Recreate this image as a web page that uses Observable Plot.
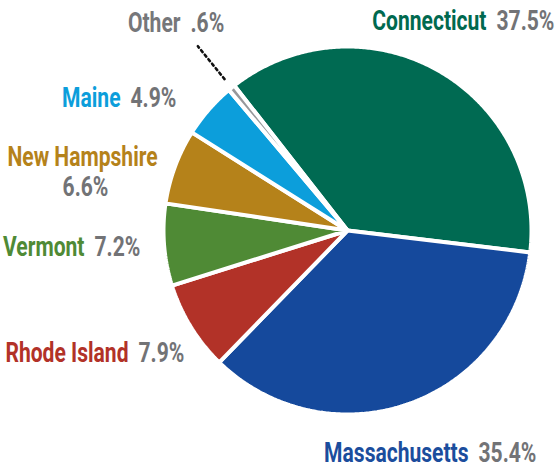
<!DOCTYPE html>
<html>
<head>
<meta charset="utf-8">
<script src="https://cdn.jsdelivr.net/npm/d3@7"></script>
<script src="https://cdn.jsdelivr.net/npm/@observablehq/plot@0.6"></script>
<style>
  html, body { margin: 0; padding: 0; background: #fff; }
  #chart svg { display: block; }
</style>
</head>
<body>
<div id="chart"></div>
<script>
// ---- data ----
const states = ["Connecticut", "Massachusetts", "Rhode Island", "Vermont", "New Hampshire", "Maine", "Other"];
const shares = [37.5, 35.4, 7.9, 7.2, 6.6, 4.9, 0.6];
const pctLabels = ["37.5%", "35.4%", "7.9%", "7.2%", "6.6%", "4.9%", ".6%"];
const colors = ["#006a52", "#15499c", "#b23228", "#4f8a35", "#b5821a", "#0c9edb", "#97989b"];
const textColors = ["#00694f", "#1b4d9d", "#b23228", "#4f8a35", "#b5821a", "#0c9edb", "#76777a"];

// ---- geometry ----
const W = 556, H = 467;
const cx = 347, cy = 230, R = 184;
const startDeg = -38;
const pie = d3.pie().sort(null)
  .startAngle(startDeg * Math.PI / 180)
  .endAngle(startDeg * Math.PI / 180 + 2 * Math.PI)(shares);

const polys = [];
pie.forEach((p, i) => {
  const name = states[i];
  polys.push({name, x: 0, y: 0});
  const n = Math.max(4, Math.ceil((p.endAngle - p.startAngle) / (Math.PI / 360)));
  for (let k = 0; k <= n; k++) {
    const a = p.startAngle + (p.endAngle - p.startAngle) * k / n;
    polys.push({name, x: Math.sin(a), y: Math.cos(a)});
  }
});

// leader line for the tiny "Other" slice
const otherArc = pie[states.indexOf("Other")];
const midOther = (otherArc.startAngle + otherArc.endAngle) / 2;
const leader = [1.06, 1.29].map(r => ({x: r * Math.sin(midOther), y: r * Math.cos(midOther)}));

// label layout (pixel anchors converted to data units)
const toX = px => (px - cx) / R, toY = py => (cy - py) / R;
const layout = {
  "Connecticut":   {px: 491, py: 29},
  "Massachusetts": {px: 473, py: 461},
  "Rhode Island":  {px: 133, py: 361},
  "Vermont":       {px: 89,  py: 255},
  "New Hampshire": {px: 82,  py: 165, stacked: true, ppx: 85, ppy: 195},
  "Maine":         {px: 125, py: 106},
  "Other":         {px: 185, py: 31}
};
const inlineLabels = states.map((s, i) => ({name: s, pct: pctLabels[i], ...layout[s]})).filter(d => !d.stacked);
const stackedLabels = states.map((s, i) => ({name: s, pct: pctLabels[i], ...layout[s]})).filter(d => d.stacked);

const font = "Roboto, 'Liberation Sans', sans-serif";
const fs = 27;
const squeeze = 0.78; // condensed look

const chart = Plot.plot({
  width: W,
  height: H,
  x: {domain: [-1, 1], range: [cx - R, cx + R], axis: null},
  y: {domain: [-1, 1], range: [cy + R, cy - R], axis: null},
  color: {domain: states, range: colors},
  style: {fontFamily: font, background: "white", overflow: "visible"},
  marks: [
    Plot.line(polys, {x: "x", y: "y", z: "name", fill: "name", stroke: "white", strokeWidth: 4, curve: "linear-closed", strokeLinejoin: "miter"}),
    Plot.line(leader, {x: "x", y: "y", stroke: "#111", strokeWidth: 2.6, strokeDasharray: "2.4,3.4"}),
    Plot.text(inlineLabels, {x: d => toX(d.px), y: d => toY(d.py), text: "name", textAnchor: "end", dx: -5,
      fill: d => textColors[states.indexOf(d.name)], fontWeight: "bold", fontSize: fs}),
    Plot.text(inlineLabels, {x: d => toX(d.px), y: d => toY(d.py), text: "pct", textAnchor: "start", dx: 5,
      fill: "#727376", fontWeight: "bold", fontSize: fs}),
    Plot.text(stackedLabels, {x: d => toX(d.px), y: d => toY(d.py), text: "name", textAnchor: "middle",
      fill: d => textColors[states.indexOf(d.name)], fontWeight: "bold", fontSize: fs}),
    Plot.text(stackedLabels, {x: d => toX(d.ppx), y: d => toY(d.ppy), text: "pct", textAnchor: "middle",
      fill: "#727376", fontWeight: "bold", fontSize: fs})
  ]
});

// horizontally condense the label glyphs around their anchor points
d3.select(chart).selectAll("text").each(function () {
  const t = d3.select(this);
  let tr = t.attr("transform") || "";
  const x = t.attr("x"), y = t.attr("y");
  if (x != null || y != null) {
    tr += ` translate(${+x || 0},${+y || 0})`;
    t.attr("x", null).attr("y", null);
  }
  t.attr("transform", `${tr} scale(${squeeze},1)`);
});

document.getElementById("chart").appendChild(chart);
</script>
</body>
</html>
